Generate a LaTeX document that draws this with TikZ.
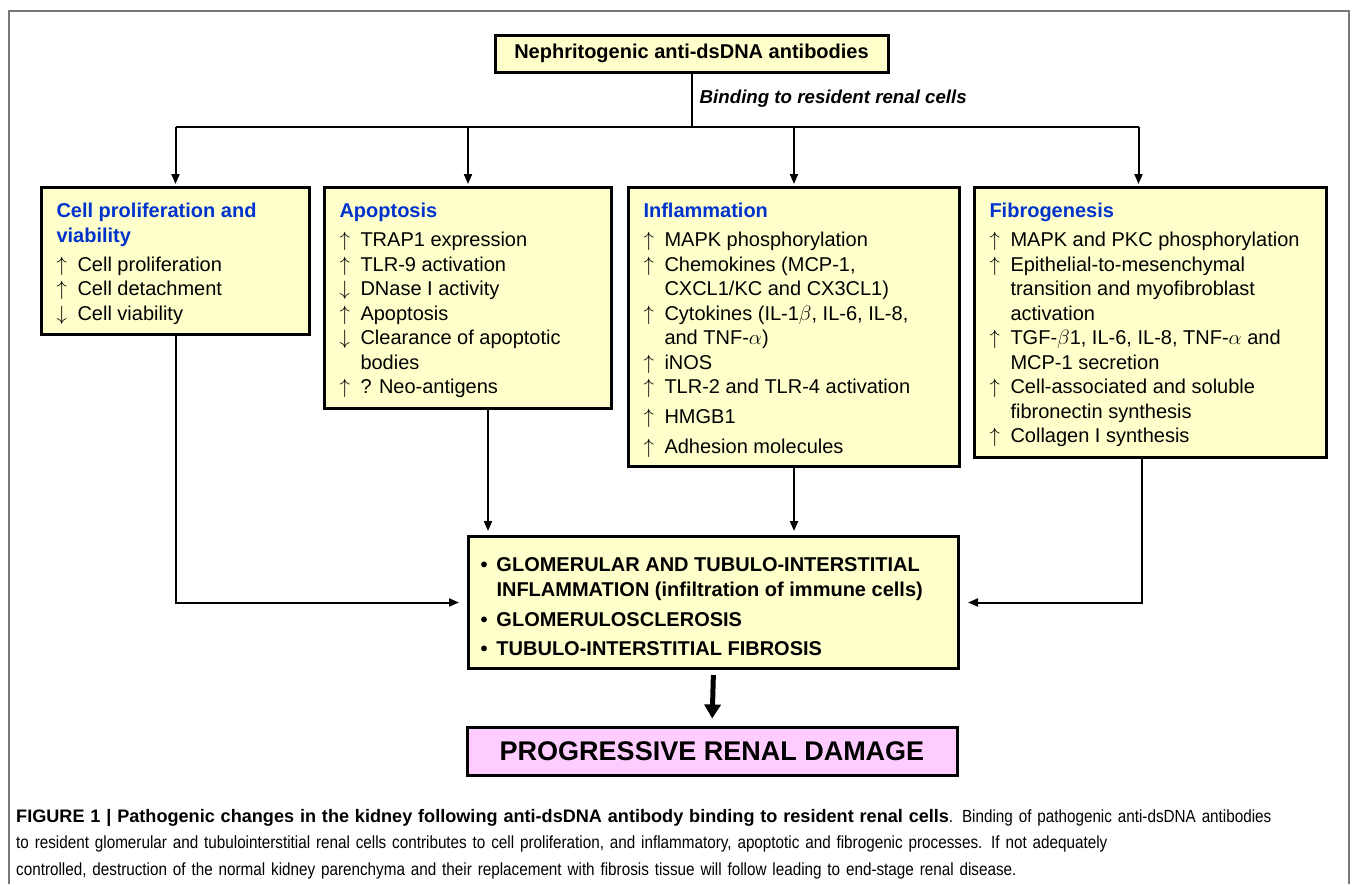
\documentclass[tikz,border=0pt]{standalone}
\usepackage{fontspec}
\setmainfont{Liberation Sans}
\newfontfamily\capfont{Liberation Sans}[FakeStretch=0.867]
\usetikzlibrary{arrows.meta,positioning}

\definecolor{boxyellow}{RGB}{255,255,204}
\definecolor{boxpink}{RGB}{255,204,255}
\definecolor{headblue}{RGB}{0,51,204}
\definecolor{framegray}{RGB}{120,120,120}

% list items with hanging arrows / bullets
\newcommand{\upi}{\par\hangindent=21pt\hangafter=1\noindent\makebox[21pt][l]{$\uparrow$}}
\newcommand{\dni}{\par\hangindent=21pt\hangafter=1\noindent\makebox[21pt][l]{$\downarrow$}}
\newcommand{\bul}{\par\hangindent=16pt\hangafter=1\noindent\makebox[16pt][l]{\textbullet}}
\newcommand{\panelhead}[1]{\rule{0pt}{30pt}{\bfseries\color{headblue}#1}\par\vspace{4.5pt}}
\newcommand{\paneltext}[3]{\parbox[t][#2][t]{#1}{\raggedright\hyphenpenalty=10000\exhyphenpenalty=10000\fontsize{20}{24.5}\selectfont #3}}

\tikzset{
  panel/.style={draw, line width=3pt, fill=boxyellow, anchor=north west, inner xsep=15pt, inner ysep=0pt},
  wire/.style={line width=2pt},
  arr/.style={wire, -{Triangle[length=10pt,width=8pt]}}
}

\begin{document}
\begin{tikzpicture}[x=1pt,y=-1pt]
        \useasboundingbox (0,0) rectangle (1355,884);
        % open frame
        \draw[framegray, line width=2pt] (9,884) -- (9,11) -- (1349,11) -- (1349,884);

        % source box
        \node[draw, line width=3pt, fill=boxyellow, minimum width=393pt, minimum height=37pt, inner sep=0pt,
              font=\fontsize{20}{24}\selectfont\bfseries] (anti) at (691.5,53.5) {Nephritogenic anti-dsDNA antibodies};
        \coordinate (hub) at ([yshift=-53pt]anti.south);
        \node[anchor=west, inner sep=0pt, font=\fontsize{18.7}{22}\selectfont\bfseries\itshape] (bindlbl)
              at ([xshift=8pt,yshift=-25pt]anti.south) {Binding to resident renal cells};

        % the four processes
        \node[panel] (prolif) at (40,186) {\paneltext{238pt}{147pt}{%
            \panelhead{Cell proliferation and\\ viability}%
            \upi Cell proliferation
            \upi Cell detachment
            \dni Cell viability}};
        \node[panel] (apop) at (323,186) {\paneltext{257pt}{221pt}{%
            \panelhead{Apoptosis}%
            \upi TRAP1 expression
            \upi TLR-9 activation
            \dni DNase I activity
            \upi Apoptosis
            \dni Clearance of apoptotic\newline bodies
            \upi ? Neo-antigens}};
        \node[panel] (inflam) at (627,186) {\paneltext{301pt}{279pt}{%
            \panelhead{Inflammation}%
            \upi MAPK phosphorylation
            \upi Chemokines (MCP-1,\newline CXCL1/KC and CX3CL1)
            \upi Cytokines (IL-1$\beta$, IL-6, IL-8,\newline and TNF-$\alpha$)
            \upi iNOS
            \upi TLR-2 and TLR-4 activation
            \par\vspace{5.5pt}\upi HMGB1
            \par\vspace{5.5pt}\upi Adhesion molecules}};
        \node[panel] (fibro) at (973,186) {\paneltext{322pt}{270pt}{%
            \panelhead{Fibrogenesis}%
            \upi MAPK and PKC phosphorylation
            \upi Epithelial-to-mesenchymal\newline transition and myofibroblast\newline activation
            \upi TGF-$\beta$1, IL-6, IL-8, TNF-$\alpha$ and\newline MCP-1 secretion
            \upi Cell-associated and soluble\newline fibronectin synthesis
            \upi Collagen I synthesis}};

        % outcome boxes
        \node[panel, inner xsep=12pt] (injury) at (467,535) {\parbox[t][132pt][t]{466pt}{\raggedright\fontsize{20}{25}\selectfont\bfseries
            \bul\rule{0pt}{35pt}GLOMERULAR AND TUBULO-INTERSTITIAL\newline INFLAMMATION (infiltration of immune cells)
            \par\vspace{4.5pt}\bul GLOMERULOSCLEROSIS
            \par\vspace{4.5pt}\bul TUBULO-INTERSTITIAL FIBROSIS}};
        \node[draw, line width=3pt, fill=boxpink, minimum width=490pt, minimum height=48pt, inner sep=0pt,
              font=\fontsize{27}{30}\selectfont\bfseries] (damage) at (712,751) {PROGRESSIVE RENAL DAMAGE};

        % connectors
        \coordinate (fibrotop) at ([xshift=-12pt]fibro.north);
        \coordinate (fibrobot) at ([xshift=-9pt]fibro.south);
        \coordinate (apopbot) at ([xshift=20pt]apop.south);
        \draw[wire] (anti.south) -- (hub);
        \draw[wire] (hub -| prolif.north) -- (hub -| fibrotop);
        \foreach \b in {prolif.north, apop.north, inflam.north, fibrotop}{
            \draw[arr, shorten >=2pt] (hub -| \b) -- (\b);
        }
        \draw[arr, shorten >=8pt] (prolif.south) |- (injury.west);
        \draw[arr, shorten >=4pt] (apopbot) -- (apopbot |- injury.north);
        \draw[arr, shorten >=4pt] (inflam.south) -- (inflam.south |- injury.north);
        \draw[arr, shorten >=8pt] (fibrobot) |- (injury.east);
        \draw[line width=5pt, -{Triangle[length=14pt,width=16pt]}, shorten <=5pt, shorten >=7pt] (injury.south) -- (damage.north);

        % caption
        \node[anchor=north west, inner sep=0pt, text width=1335pt, align=left,
              font=\capfont\fontsize{17.6}{26.5}\selectfont] (caption) at (16,809)
              {{\normalfont\fontsize{18.1}{26.5}\selectfont\bfseries FIGURE 1 | Pathogenic changes in the kidney following anti-dsDNA antibody binding to resident renal cells}. Binding of pathogenic anti-dsDNA antibodies\\
               to resident glomerular and tubulointerstitial renal cells contributes to cell proliferation, and inflammatory, apoptotic and fibrogenic processes. If not adequately\\
               controlled, destruction of the normal kidney parenchyma and their replacement with fibrosis tissue will follow leading to end-stage renal disease.};
\end{tikzpicture}
\end{document}
